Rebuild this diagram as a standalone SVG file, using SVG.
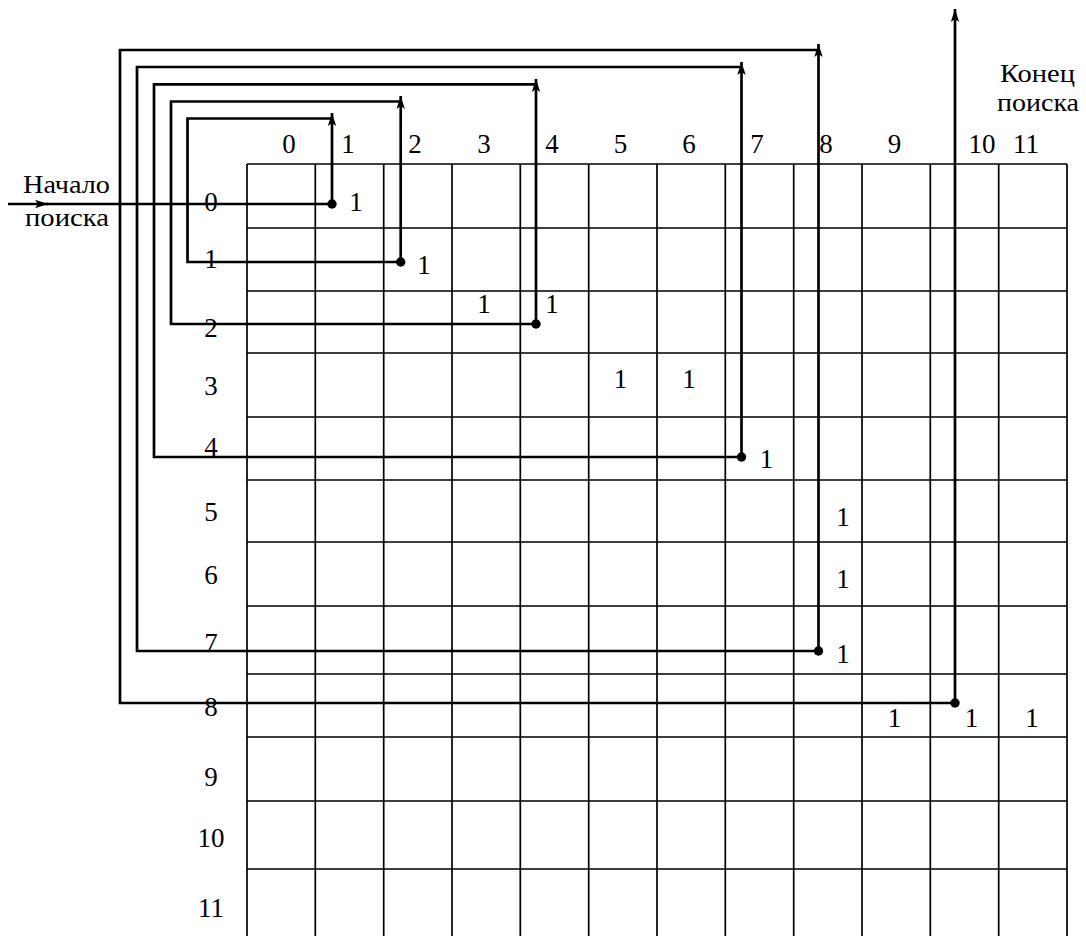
<svg xmlns="http://www.w3.org/2000/svg" width="1086" height="936" viewBox="0 0 1086 936">
<style>
.g{stroke:#000;stroke-width:1.7;fill:none}
.c{stroke:#000;stroke-width:2.7;fill:none}
.a{stroke:#000;stroke-width:2.7;fill:none;marker-end:url(#ah)}
text{font-family:'Liberation Serif','DejaVu Serif',serif;fill:#000}
.t{font-size:27px;text-anchor:middle}
.w{font-size:26px}
.d{fill:#000}
</style>
<defs>
<marker id="ah" markerUnits="userSpaceOnUse" markerWidth="16" markerHeight="12" viewBox="-14 -6 16 12" refX="0" refY="0" orient="auto" overflow="visible">
<path d="M0,0 L-13,-4.2 L-10,0 L-13,4.2 Z" fill="#000"/>
</marker>
</defs>
<rect width="1086" height="936" fill="#fff"/>
<g id="grid">
<path class="g" d="M247,164H1067M247,228H1067M247,291H1067M247,353H1067M247,417H1067M247,480H1067M247,542H1067M247,606H1067M247,674H1067M247,737H1067M247,801H1067M247,869H1067"/>
<path class="g" d="M247,164V936M315.3,164V936M383.7,164V936M452,164V936M520.3,164V936M588.7,164V936M657,164V936M725.3,164V936M793.7,164V936M862,164V936M930.3,164V936M998.7,164V936M1067,164V936"/>
</g>
<g id="col-labels">
<text x="289" y="153" class="t">0</text>
<text x="348" y="153" class="t">1</text>
<text x="415" y="153" class="t">2</text>
<text x="484" y="153" class="t">3</text>
<text x="552" y="153" class="t">4</text>
<text x="620.5" y="153" class="t">5</text>
<text x="689" y="153" class="t">6</text>
<text x="757" y="153" class="t">7</text>
<text x="826" y="153" class="t">8</text>
<text x="894.5" y="153" class="t">9</text>
<text x="982" y="153" class="t">10</text>
<text x="1026" y="153" class="t">11</text>
</g>
<g id="row-labels">
<text x="211" y="211" class="t">0</text>
<text x="211" y="268" class="t">1</text>
<text x="211" y="337" class="t">2</text>
<text x="211" y="395" class="t">3</text>
<text x="211" y="456" class="t">4</text>
<text x="211" y="521" class="t">5</text>
<text x="211" y="584" class="t">6</text>
<text x="211" y="652" class="t">7</text>
<text x="211" y="716" class="t">8</text>
<text x="211" y="786" class="t">9</text>
<text x="211" y="847" class="t">10</text>
<text x="211" y="917" class="t">11</text>
</g>
<g id="cells">
<text x="356" y="211" class="t">1</text>
<text x="424" y="274" class="t">1</text>
<text x="484" y="313" class="t">1</text>
<text x="552" y="313" class="t">1</text>
<text x="620.5" y="388" class="t">1</text>
<text x="689" y="388" class="t">1</text>
<text x="766.5" y="468" class="t">1</text>
<text x="843" y="526" class="t">1</text>
<text x="843" y="588" class="t">1</text>
<text x="843" y="663" class="t">1</text>
<text x="894.5" y="727" class="t">1</text>
<text x="971.5" y="727" class="t">1</text>
<text x="1032" y="727" class="t">1</text>
</g>
<g id="start">
<text x="23" y="193" class="w" textLength="87" lengthAdjust="spacingAndGlyphs">Начало</text>
<text x="25" y="226" class="w" textLength="84" lengthAdjust="spacingAndGlyphs">поиска</text>
</g>
<g id="end">
<text x="1000" y="82" class="w" textLength="75" lengthAdjust="spacingAndGlyphs">Конец</text>
<text x="997" y="111" class="w" textLength="82" lengthAdjust="spacingAndGlyphs">поиска</text>
</g>
<g id="connectors">
<path class="a" d="M8,204H48"/>
<path class="c" d="M46,204H332"/>
<path class="a" d="M332,204V113"/>
<path class="c" d="M332,118.5H187.5V262H400.7"/>
<path class="a" d="M400.7,262V96"/>
<path class="c" d="M400.7,101.5H171V324H536"/>
<path class="a" d="M536,324V79"/>
<path class="c" d="M536,84.3H154V457H741.5"/>
<path class="a" d="M741.5,457V62"/>
<path class="c" d="M741.5,67H137V651H818.5"/>
<path class="a" d="M818.5,651V44"/>
<path class="c" d="M818.5,50H120V703H955"/>
<path class="a" d="M955,703V9"/>
<circle class="d" cx="332" cy="204" r="4.7"/>
<circle class="d" cx="400.7" cy="262" r="4.7"/>
<circle class="d" cx="536" cy="324" r="4.7"/>
<circle class="d" cx="741.5" cy="457" r="4.7"/>
<circle class="d" cx="818.5" cy="651" r="4.7"/>
<circle class="d" cx="955" cy="703" r="4.7"/>
</g>
</svg>
